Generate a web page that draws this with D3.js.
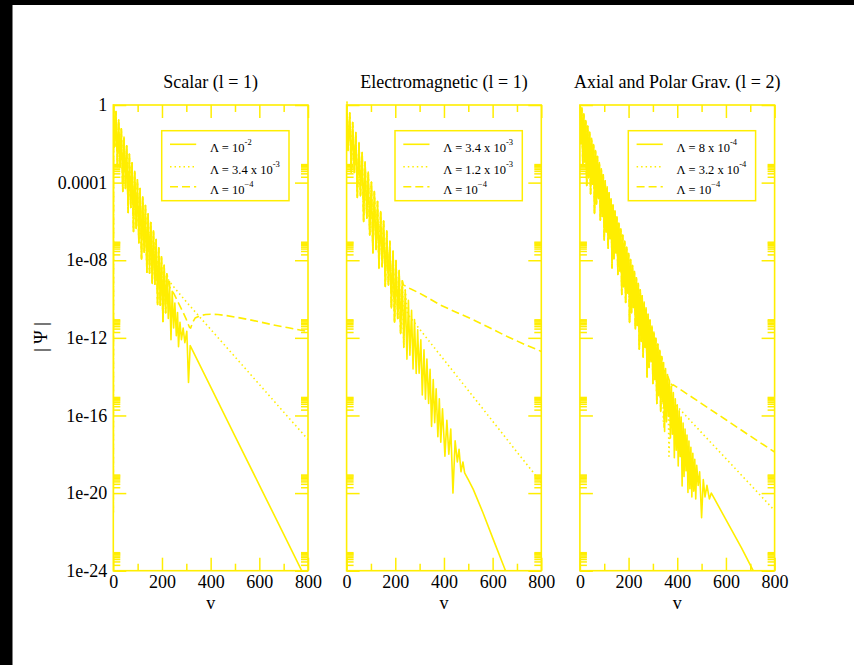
<!DOCTYPE html>
<html><head><meta charset="utf-8">
<script src="https://cdn.jsdelivr.net/npm/d3@7"></script>
<style>body{margin:0;background:#fff} svg{display:block}</style>
</head><body><svg id="c" width="854" height="665"></svg>
<script>
// ---------- data ----------
const panelTitles = ["Scalar (l = 1)", "Electromagnetic (l = 1)", "Axial and Polar Grav. (l = 2)"];
const xTicks = [0, 200, 400, 600, 800];
const xMinorTicks = [100, 300, 500, 700];
const yTicks = [1, 1e-4, 1e-8, 1e-12, 1e-16, 1e-20, 1e-24];
const yTickLabels = ["1", "0.0001", "1e-08", "1e-12", "1e-16", "1e-20", "1e-24"];
const xLabel = "v";
const yLabel = "| Ψ |";
const legendScalar = [["Λ = 10", "-2"], ["Λ = 3.4 x 10", "-3"], ["Λ = 10", "−4"]];
const legendEM = [["Λ = 3.4 x 10", "-3"], ["Λ = 1.2 x 10", "-3"], ["Λ = 10", "−4"]];
const legendGrav = [["Λ = 8 x 10", "-4"], ["Λ = 3.2 x 10", "-4"], ["Λ = 10", "−4"]];

// early ringing, common to the three curves of each panel: [v, |Psi|]
const scalarRing = [[0,1e-21],[1,1],[6,7.2e-3],[11,4.6e-1],[17,6.6e-4],[22,1.7e-1],[28,6e-4],[33,6e-2],[39,3.5e-5],[44,2.2e-2],[50,5e-5],[55,8e-3],[61,2.9e-6],[66,2.9e-3],[72,5.2e-6],[77,1.05e-3],[83,3e-7],[88,3.8e-4],[94,4.4e-7],[99,1.4e-4],[105,8e-8],[110,5e-5],[116,1.15e-8],[121,1.8e-5],[127,2.6e-8],[132,6.6e-6],[138,2.4e-9],[143,2.4e-6],[149,2.2e-9],[154,8.7e-7],[160,6.3e-10],[165,3.2e-7],[171,5.8e-10],[176,1.15e-7],[182,5.2e-11],[187,4.2e-8],[193,4.8e-11],[198,1.5e-8],[204,6.9e-12],[209,5.5e-9],[215,2e-11],[220,2e-9]];
const scalarSolidTail = [[226,1e-11],[231,8e-10],[237,8e-13],[242,2.5e-10],[248,3.2e-12],[253,6.3e-11],[259,1.3e-12],[264,2e-11],[268,3.5e-13],[274,6.3e-12],[280,8e-13],[287,3.2e-12],[294,5.6e-13],[302,2.2e-12],[309,5e-15],[316,4e-13],[400,3e-15],[500,8.7e-18],[600,2.6e-20],[700,7.6e-23],[800,2.2e-25]];
const scalarDotTail = [[226,1e-9],[240,5.6e-10],[300,7.2e-11],[400,2.75e-12],[500,1.05e-13],[600,4e-15],[700,1.5e-16],[800,5.8e-18]];
const scalarDashTail = [[230,4.5e-10],[250,1.8e-10],[268,6.2e-11],[288,1.9e-11],[300,8.9e-12],[313,3.5e-12],[318,3.2e-12],[326,6.3e-12],[336,1.05e-11],[357,1.4e-11],[380,1.6e-11],[400,1.66e-11],[430,1.6e-11],[466,1.4e-11],[520,1.07e-11],[562,8.5e-12],[610,6.3e-12],[656,4.7e-12],[720,3.3e-12],[800,2.1e-12]];

const emRing = [[0,1.5],[6,4.6e-3],[13,3.8e-1],[19,3.5e-4],[25,1.26e-1],[32,3.3e-4],[38,3.8e-2],[44,1.7e-5],[51,1.15e-2],[57,2.1e-5],[64,3.5e-3],[70,1e-6],[76,1.15e-3],[83,1.5e-6],[89,3.5e-4],[95,2e-7],[102,1.05e-4],[108,2.4e-8],[114,3.5e-5],[121,3.6e-8],[127,1.05e-5],[133,3.8e-9],[140,3.2e-6],[146,4.6e-9],[152,1.05e-6],[159,4.4e-10],[165,3.2e-7],[172,5.2e-10],[178,9.5e-8],[184,3.5e-11],[191,2.9e-8],[197,6.6e-12],[203,9.5e-9],[210,1e-11],[216,2.9e-9],[222,1.66e-12],[229,8.7e-10]];
const emSolidTail = [[235,3.2e-13],[241,2.9e-10],[248,8e-14],[254,8.7e-11],[260,1.26e-13],[267,2.6e-11],[273,2.5e-14],[279,8.7e-12],[286,1.45e-14],[292,2.6e-12],[298,1.5e-14],[305,8e-13],[311,1.15e-15],[318,2.4e-13],[324,6.9e-16],[330,8e-14],[337,4.2e-16],[343,2.4e-14],[349,2.75e-17],[356,7.2e-15],[362,4.2e-17],[368,2.4e-15],[375,8e-18],[381,7.2e-16],[387,4.2e-18],[394,2.2e-16],[404,8e-19],[412,5.6e-17],[420,1e-18],[428,2e-17],[437,1e-20],[446,5e-18],[455,4e-19],[462,1.8e-18],[470,1.26e-19],[478,4e-19],[485,1.1e-19],[500,5e-20],[520,1.6e-20],[560,1e-21],[603,4e-23],[653,1e-24],[700,3.2e-26]];
const emDotTail = [[235,3.2e-13],[241,2.9e-10],[250,1.74e-11],[300,2.8e-12],[400,7.4e-14],[500,1.95e-15],[600,5.1e-17],[700,1.3e-18],[800,3.5e-20]];
const emDashTail = [[233,5.4e-10],[260,3.5e-10],[300,2e-10],[340,1.05e-10],[384,5e-11],[450,2.1e-11],[521,8.5e-12],[590,3.2e-12],[658,1.2e-12],[730,4.7e-13],[800,2e-13]];

const gravRing = [[0,1],[4,1e-2],[8,6.9e-1],[12,7.6e-4],[16,3.4e-1],[20,1.17e-3],[24,1.6e-1],[28,7.2e-5],[32,8e-2],[36,1.8e-4],[40,3.9e-2],[44,2.7e-5],[48,1.9e-2],[52,8.3e-5],[56,9.2e-3],[60,2.6e-6],[64,4.5e-3],[68,7.9e-6],[72,2.2e-3],[76,1.5e-5],[80,1.07e-3],[84,1.2e-6],[88,5.2e-4],[92,1.8e-6],[96,2.5e-4],[100,1.1e-7],[104,1.24e-4],[108,2.75e-7],[112,6e-5],[116,4.2e-8],[120,2.95e-5],[124,1.3e-7],[128,1.44e-5],[132,4e-9],[136,7e-6],[140,1.2e-8],[144,3.4e-6],[148,2.4e-8],[152,1.67e-6],[156,1.85e-9],[160,8.1e-7],[164,2.8e-9],[168,4e-7],[172,1.75e-10],[176,1.9e-7],[180,4.3e-10],[184,9.4e-8],[188,6.6e-11],[192,4.6e-8],[196,2e-10],[200,2.2e-8],[204,6.2e-12],[208,1.1e-8],[212,1.9e-11],[216,5.3e-9],[220,3.7e-11],[224,2.6e-9],[228,2.9e-12],[232,1.26e-9],[236,4.4e-12],[240,6.2e-10],[244,2.7e-13],[248,3e-10],[252,6.6e-13],[256,1.47e-10],[260,1.02e-13],[264,7.1e-11],[268,3.2e-13],[272,3.5e-11],[276,9.7e-15],[280,1.7e-11],[284,3e-14],[288,8.3e-12],[292,5.8e-14],[296,4e-12],[300,4.5e-15],[304,2e-12],[308,6.9e-15],[312,9.6e-13],[316,4.2e-16],[320,4.7e-13],[324,1.03e-15],[328,2.3e-13],[332,1.6e-16],[336,1.1e-13]];
const gravSolidTail = [[340,4.9e-16],[344,5.4e-14],[348,1.5e-17],[352,2.6e-14],[356,4.7e-17],[360,1.3e-14],[364,9e-17],[368,6.3e-15],[372,6.9e-18],[376,3.1e-15],[380,1.07e-17],[384,1.5e-15],[388,6.6e-19],[392,7.3e-16],[396,1.6e-18],[400,3.5e-16],[404,2.5e-19],[408,1.73e-16],[412,7.6e-19],[416,8.4e-17],[420,2.3e-20],[424,4.1e-17],[428,7.2e-20],[432,2e-17],[436,1.4e-19],[440,9.8e-18],[444,1.07e-20],[448,4.8e-18],[452,1.66e-20],[456,2.3e-18],[460,6.3e-21],[464,1.13e-18],[468,1.26e-20],[472,5.5e-19],[476,5e-21],[480,2.7e-19],[486,2.5e-20],[492,1.26e-19],[500,5.4e-22],[507,5e-20],[514,6.3e-21],[522,2.5e-20],[532,5e-21],[540,1e-20],[547,6.9e-21],[600,4.3e-22],[664,1.5e-23],[712,1e-24],[760,6.3e-26]];
const gravDotTail = [[340,6e-14],[343,5e-17],[348,2.5e-14],[356,5e-15],[362,2e-15],[366,8e-19],[372,1e-15],[382,5e-16],[390,4e-16],[412,2e-16],[500,1.3e-17],[600,6e-19],[700,2.75e-20],[800,1.26e-21]];
const gravDashTail = [[342,3e-14],[346,2.5e-17],[350,2e-14],[356,1.3e-15],[362,1e-14],[370,5e-15],[380,3.5e-15],[384,3.8e-15],[420,1.9e-15],[500,4.1e-16],[600,6e-17],[700,8.7e-18],[800,1.3e-18]];

// ---------- layout / style ----------
const YEL = "#ffee00";
const FONT = "'Liberation Serif','Times New Roman',serif";
const plotTop = 105, plotBottom = 570.7, plotW = 194.7;
const lefts = [113.3, 346.6, 579.9];
const styles = [null, "1.5,3", "8,4"];

const panels = [
  {series: [scalarRing.concat(scalarSolidTail), scalarRing.concat(scalarDotTail), scalarRing.concat(scalarDashTail)], legend: legendScalar},
  {series: [emRing.concat(emSolidTail), emRing.concat(emDotTail), emRing.concat(emDashTail)], legend: legendEM},
  {series: [gravRing.concat(gravSolidTail), gravRing.concat(gravDotTail), gravRing.concat(gravDashTail)], legend: legendGrav}
];

const svg = d3.select("#c");
svg.append("rect").attr("width", 854).attr("height", 665).attr("fill", "#fff");
svg.append("rect").attr("x", 0).attr("y", 0).attr("width", 854).attr("height", 5).attr("fill", "#000");
svg.append("rect").attr("x", 0).attr("y", 0).attr("width", 12.5).attr("height", 665).attr("fill", "#000");

const y = d3.scaleLog().domain([1e-24, 1]).range([plotBottom, plotTop]);
const yMinor = yTicks.slice(1).flatMap(t => [2,3,4,5,6,7,8,9].map(m => m * t));

function styleAxis(sel) {
  sel.select(".domain").remove();
  sel.attr("font-family", FONT).attr("font-size", 18);
  sel.selectAll("line").attr("stroke", YEL).attr("stroke-width", 1.5);
  sel.selectAll("text").attr("fill", "#000");
}

panels.forEach((p, i) => {
  const L = lefts[i];
  const x = d3.scaleLinear().domain([0, 800]).range([L, L + plotW]);
  const g = svg.append("g");

  const cid = "clip" + i;
  svg.append("defs").append("clipPath").attr("id", cid)
    .append("rect").attr("x", L).attr("y", plotTop - 5).attr("width", plotW).attr("height", plotBottom - plotTop + 5);

  const line = d3.line().x(d => x(d[0])).y(d => y(d[1]));
  const cg = g.append("g").attr("clip-path", `url(#${cid})`);
  [2, 1, 0].forEach(k => {
    cg.append("path").datum(p.series[k]).attr("d", line)
      .attr("fill", "none").attr("stroke", YEL).attr("stroke-width", 1.6)
      .attr("stroke-linejoin", "round")
      .attr("stroke-dasharray", styles[k]);
  });

  // axes (inward ticks on all four sides)
  g.append("g").attr("transform", `translate(0,${plotBottom})`)
    .call(d3.axisBottom(x).tickValues(xTicks).tickSize(-13).tickPadding(4.5).tickFormat(d => String(d))).call(styleAxis);
  g.append("g").attr("transform", `translate(0,${plotBottom})`)
    .call(d3.axisBottom(x).tickValues(xMinorTicks).tickSize(-7).tickFormat(() => "")).call(styleAxis);
  g.append("g").attr("transform", `translate(0,${plotTop})`)
    .call(d3.axisTop(x).tickValues(xTicks).tickSize(-13).tickFormat(() => "")).call(styleAxis);
  g.append("g").attr("transform", `translate(0,${plotTop})`)
    .call(d3.axisTop(x).tickValues(xMinorTicks).tickSize(-7).tickFormat(() => "")).call(styleAxis);
  g.append("g").attr("transform", `translate(${L},0)`)
    .call(d3.axisLeft(y).tickValues(yTicks).tickSize(-13).tickPadding(6)
      .tickFormat((d, j) => i === 0 ? yTickLabels[j] : "")).call(styleAxis);
  g.append("g").attr("transform", `translate(${L},0)`)
    .call(d3.axisLeft(y).tickValues(yMinor).tickSize(-7).tickFormat(() => "")).call(styleAxis);
  g.append("g").attr("transform", `translate(${L + plotW},0)`)
    .call(d3.axisRight(y).tickValues(yTicks).tickSize(-13).tickFormat(() => "")).call(styleAxis);
  g.append("g").attr("transform", `translate(${L + plotW},0)`)
    .call(d3.axisRight(y).tickValues(yMinor).tickSize(-7).tickFormat(() => "")).call(styleAxis);

  g.append("rect").attr("x", L).attr("y", plotTop).attr("width", plotW).attr("height", plotBottom - plotTop)
    .attr("fill", "none").attr("stroke", YEL).attr("stroke-width", 1.6);

  // title, x label
  g.append("text").attr("x", L + plotW / 2).attr("y", 88).attr("text-anchor", "middle")
    .attr("font-family", FONT).attr("font-size", 18).text(panelTitles[i]);
  g.append("text").attr("x", L + plotW / 2).attr("y", 609).attr("text-anchor", "middle")
    .attr("font-family", FONT).attr("font-size", 18).text(xLabel);

  // legend
  const bx = L + 48.4, by = 130.7, bw = 127.3, bh = 70;
  g.append("rect").attr("x", bx).attr("y", by).attr("width", bw).attr("height", bh)
    .attr("fill", "#fff").attr("stroke", YEL).attr("stroke-width", 1.5);
  const lineY = [13.6, 36, 56], textY = [21.3, 42.8, 63.3];
  p.legend.forEach((lab, k) => {
    g.append("line").attr("x1", bx + 8.3).attr("x2", bx + 34.5)
      .attr("y1", by + lineY[k]).attr("y2", by + lineY[k])
      .attr("stroke", YEL).attr("stroke-width", 1.6).attr("stroke-dasharray", styles[k]);
    const t = g.append("text").attr("x", bx + 48.3).attr("y", by + textY[k])
      .attr("font-family", FONT).attr("font-size", 12.5);
    t.append("tspan").text(lab[0]);
    t.append("tspan").attr("dy", -7).attr("font-size", 8.5).text(lab[1]);
  });
});

svg.append("text").attr("transform", "translate(47,337) rotate(-90)").attr("text-anchor", "middle")
  .attr("font-family", FONT).attr("font-size", 18).text(yLabel);
</script>
</body></html>
